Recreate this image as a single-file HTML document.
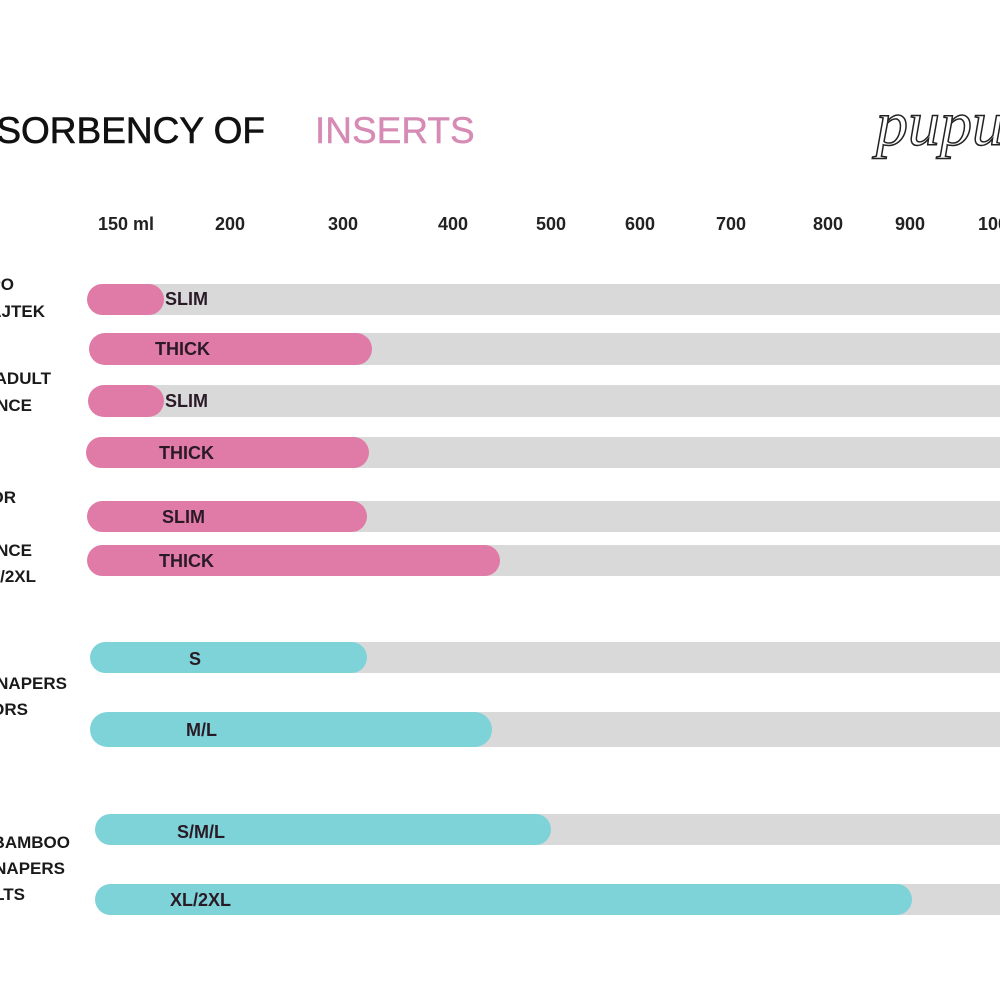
<!DOCTYPE html>
<html><head><meta charset="utf-8">
<style>
html,body{margin:0;padding:0;background:#fff;}
body{width:1000px;height:1000px;position:relative;overflow:hidden;font-family:"Liberation Sans",sans-serif;}
.t{position:absolute;white-space:nowrap;}
.title{font-size:37px;color:#111;top:110px;line-height:42px;-webkit-text-stroke:0.6px #111;}
.tick{font-size:18px;font-weight:bold;color:#222;top:213px;line-height:22px;}
.lab{font-size:17px;font-weight:bold;color:#1a1a1a;line-height:20px;text-align:right;}
.track{position:absolute;right:0;background:#d9d9d9;}
.bar{position:absolute;border-radius:17px;}
.p{background:#e07aa6;}
.c{background:#7dd3d8;}
.bl{position:absolute;font-size:18px;font-weight:bold;color:#2a1a26;white-space:nowrap;line-height:20px;}
</style></head>
<body>
<div class="t title" style="right:735px;">ABSORBENCY OF</div>
<div class="t title" style="left:315px;color:#d68bb5;-webkit-text-stroke:0.4px #d68bb5;">INSERTS</div>
<svg style="position:absolute;left:860px;top:93px;" width="140" height="85">
<text x="16" y="52" font-family="Liberation Serif,serif" font-style="italic" font-size="64" fill="none" stroke="#222" stroke-width="1.5">pupu</text>
</svg>

<div class="t tick" style="left:98px;">150 ml</div>
<div class="t tick" style="left:215px;">200</div>
<div class="t tick" style="left:328px;">300</div>
<div class="t tick" style="left:438px;">400</div>
<div class="t tick" style="left:536px;">500</div>
<div class="t tick" style="left:625px;">600</div>
<div class="t tick" style="left:716px;">700</div>
<div class="t tick" style="left:813px;">800</div>
<div class="t tick" style="left:895px;">900</div>
<div class="t tick" style="left:978px;">1000</div>

<!-- left labels -->
<div class="t lab" style="right:986px;top:275px;">PO</div>
<div class="t lab" style="right:955px;top:302px;">MAJTEK</div>
<div class="t lab" style="right:949px;top:369px;">ADULT</div>
<div class="t lab" style="right:968px;top:396px;">ANCE</div>
<div class="t lab" style="right:984px;top:488px;">OR</div>
<div class="t lab" style="right:968px;top:541px;">ANCE</div>
<div class="t lab" style="right:964px;top:567px;">/2XL</div>
<div class="t lab" style="right:933px;top:674px;">NAPERS</div>
<div class="t lab" style="right:972px;top:700px;">ORS</div>
<div class="t lab" style="right:930px;top:833px;">BAMBOO</div>
<div class="t lab" style="right:935px;top:859px;">NAPERS</div>
<div class="t lab" style="right:975px;top:885px;">LTS</div>

<!-- bars -->
<div class="track" style="top:284px;height:31px;left:120px;"></div>
<div class="bar p" style="top:284px;height:31px;left:87px;width:77px;"></div>
<div class="bl" style="left:165px;top:289px;">SLIM</div>

<div class="track" style="top:333px;height:32px;left:120px;"></div>
<div class="bar p" style="top:333px;height:32px;left:89px;width:283px;"></div>
<div class="bl" style="left:155px;top:339px;">THICK</div>

<div class="track" style="top:385px;height:32px;left:120px;"></div>
<div class="bar p" style="top:385px;height:32px;left:88px;width:76px;"></div>
<div class="bl" style="left:165px;top:391px;">SLIM</div>

<div class="track" style="top:437px;height:31px;left:120px;"></div>
<div class="bar p" style="top:437px;height:31px;left:86px;width:283px;"></div>
<div class="bl" style="left:159px;top:443px;">THICK</div>

<div class="track" style="top:501px;height:31px;left:120px;"></div>
<div class="bar p" style="top:501px;height:31px;left:87px;width:280px;"></div>
<div class="bl" style="left:162px;top:507px;">SLIM</div>

<div class="track" style="top:545px;height:31px;left:120px;"></div>
<div class="bar p" style="top:545px;height:31px;left:87px;width:413px;"></div>
<div class="bl" style="left:159px;top:551px;">THICK</div>

<div class="track" style="top:642px;height:31px;left:120px;"></div>
<div class="bar c" style="top:642px;height:31px;left:90px;width:277px;"></div>
<div class="bl" style="left:189px;top:649px;">S</div>

<div class="track" style="top:712px;height:35px;left:120px;"></div>
<div class="bar c" style="top:712px;height:35px;left:90px;width:402px;border-radius:18px;"></div>
<div class="bl" style="left:186px;top:720px;">M/L</div>

<div class="track" style="top:814px;height:31px;left:120px;"></div>
<div class="bar c" style="top:814px;height:31px;left:95px;width:456px;"></div>
<div class="bl" style="left:177px;top:822px;">S/M/L</div>

<div class="track" style="top:884px;height:31px;left:120px;"></div>
<div class="bar c" style="top:884px;height:31px;left:95px;width:817px;"></div>
<div class="bl" style="left:170px;top:890px;">XL/2XL</div>
</body></html>
